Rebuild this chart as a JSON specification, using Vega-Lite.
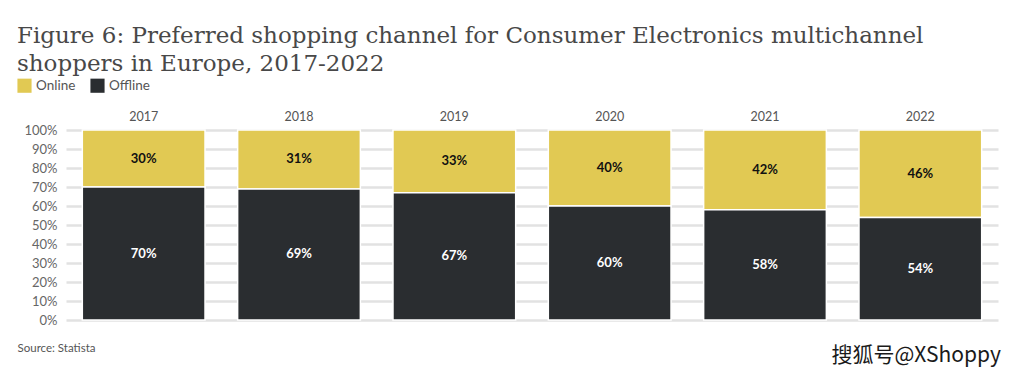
{
  "$schema": "https://vega.github.io/schema/vega-lite/v6.json",
  "width": 932,
  "height": 190,
  "padding": {"left": 17, "top": 25, "right": 5, "bottom": 5},
  "background": "white",
  "title": {
    "text": ["Figure 6: Preferred shopping channel for Consumer Electronics multichannel", "shoppers in Europe, 2017-2022"],
    "anchor": "start",
    "frame": "bounds",
    "font": "DejaVu Serif",
    "fontSize": 23,
    "fontWeight": "normal",
    "color": "#484848",
    "lineHeight": 28,
    "offset": 2
  },
  "config": {
    "view": {"stroke": null},
    "axis": {"labelFont": "Lato", "titleFont": "Lato"}
  },
  "resolve": {"axis": {"y": "independent", "x": "independent"}},
  "data": {
    "values": [
      {"year": "2017", "channel": "Online", "value": 0.30, "ord": 2},
      {"year": "2017", "channel": "Offline", "value": 0.70, "ord": 1},
      {"year": "2018", "channel": "Online", "value": 0.31, "ord": 2},
      {"year": "2018", "channel": "Offline", "value": 0.69, "ord": 1},
      {"year": "2019", "channel": "Online", "value": 0.33, "ord": 2},
      {"year": "2019", "channel": "Offline", "value": 0.67, "ord": 1},
      {"year": "2020", "channel": "Online", "value": 0.40, "ord": 2},
      {"year": "2020", "channel": "Offline", "value": 0.60, "ord": 1},
      {"year": "2021", "channel": "Online", "value": 0.42, "ord": 2},
      {"year": "2021", "channel": "Offline", "value": 0.58, "ord": 1},
      {"year": "2022", "channel": "Online", "value": 0.46, "ord": 2},
      {"year": "2022", "channel": "Offline", "value": 0.54, "ord": 1}
    ]
  },
  "layer": [
    {
      "mark": {"type": "bar", "stroke": "white", "strokeWidth": 1.5},
      "encoding": {
        "x": {
          "field": "year", "type": "ordinal",
          "scale": {"paddingInner": 0.21, "paddingOuter": 0.105},
          "axis": {"orient": "top", "title": null, "ticks": false, "domain": false, "labelAngle": 0, "labelFontSize": 12.5, "labelColor": "#555555", "labelPadding": 7}
        },
        "y": {
          "field": "value", "type": "quantitative", "stack": "zero",
          "scale": {"domain": [0, 1]},
          "axis": {"orient": "left", "title": null, "values": [0, 0.1, 0.2, 0.3, 0.4, 0.5, 0.6, 0.7, 0.8, 0.9, 1], "format": ".0%", "ticks": false, "domain": false, "grid": true, "gridColor": "#e2e2e2", "gridWidth": 2.5, "labelFontSize": 13, "labelColor": "#666666", "labelPadding": 9}
        },
        "color": {
          "field": "channel", "type": "nominal",
          "scale": {"domain": ["Online", "Offline"], "range": ["#e1c953", "#2a2d30"]},
          "legend": {"orient": "none", "legendX": -49, "legendY": -52, "title": null, "direction": "horizontal", "symbolType": "square", "symbolSize": 200, "symbolStrokeWidth": 0, "labelFont": "Lato", "labelFontSize": 13.5, "labelColor": "#555555", "labelOffset": 4, "columnPadding": 14}
        },
        "order": {"field": "ord", "type": "quantitative"}
      }
    },
    {
      "transform": [
        {"stack": "value", "groupby": ["year"], "sort": [{"field": "ord", "order": "ascending"}], "as": ["v0", "v1"]},
        {"calculate": "(datum.v0 + datum.v1) / 2", "as": "mid"}
      ],
      "mark": {"type": "text", "font": "Lato", "fontWeight": "bold", "fontSize": 13},
      "encoding": {
        "x": {
          "field": "year", "type": "ordinal",
          "axis": {"orient": "bottom", "labels": false, "ticks": false, "domain": false, "grid": false, "title": "Source: Statista", "titleFont": "Lato", "titleFontSize": 11.5, "titleFontWeight": "normal", "titleColor": "#555555", "titleAnchor": "start", "titleAlign": "left", "titleX": -49, "titleY": 31, "titleBaseline": "alphabetic"}
        },
        "y": {
          "field": "mid", "type": "quantitative",
          "axis": {"orient": "right", "labels": false, "ticks": false, "domain": false, "grid": false, "title": "搜狐号@XShoppy", "titleFont": "Noto Sans CJK SC", "titleFontSize": 21, "titleFontWeight": "normal", "titleColor": "#1a1a1a", "titleAngle": 0, "titleAlign": "left", "titleBaseline": "alphabetic", "titleX": -167, "titleY": 231}
        },
        "text": {"field": "value", "type": "quantitative", "format": ".0%"},
        "color": {"condition": {"test": "datum.channel === 'Online'", "value": "#111111"}, "value": "#ffffff"}
      }
    }
  ]
}
